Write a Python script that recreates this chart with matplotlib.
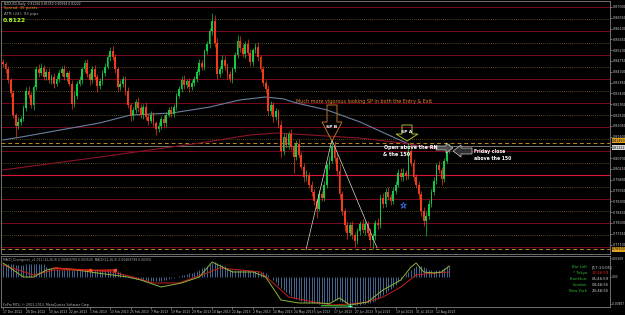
import numpy as np
import pandas as pd
import matplotlib
matplotlib.use('Agg')
import matplotlib.pyplot as plt
from matplotlib.patches import Polygon

W, H = 625, 315  # output size in px

# ---------------- data ----------------

# one daily bar per weekday, 17 Dec 2012 .. 19 Aug 2013
bar_dates = pd.bdate_range('2012-12-17', '2013-08-19')

first_open = 0.8470
closes = [
    0.8462, 0.8440, 0.8395, 0.8340, 0.8250, 0.8205, 0.8222, 0.8235, 0.8280, 0.8350,
    0.8335, 0.8290, 0.8365, 0.8440, 0.8425, 0.8445, 0.8410, 0.8430, 0.8395, 0.8410,
    0.8380, 0.8400, 0.8425, 0.8440, 0.8410, 0.8425, 0.8380, 0.8295, 0.8330, 0.8380,
    0.8395, 0.8440, 0.8465, 0.8420, 0.8395, 0.8440, 0.8410, 0.8370, 0.8390, 0.8425,
    0.8450, 0.8490, 0.8515, 0.8490, 0.8440, 0.8365, 0.8380, 0.8400, 0.8350, 0.8290,
    0.8245, 0.8270, 0.8305, 0.8280, 0.8250, 0.8285, 0.8240, 0.8225, 0.8250, 0.8215,
    0.8190, 0.8205, 0.8235, 0.8215, 0.8250, 0.8270, 0.8255, 0.8285, 0.8330, 0.8360,
    0.8395, 0.8375, 0.8390, 0.8365, 0.8385, 0.8400, 0.8430, 0.8465, 0.8450, 0.8515,
    0.8545, 0.8600, 0.8640, 0.8550, 0.8420, 0.8440, 0.8480, 0.8455, 0.8420, 0.8400,
    0.8440, 0.8500, 0.8560, 0.8530, 0.8505, 0.8545, 0.8510, 0.8470, 0.8520, 0.8535,
    0.8490, 0.8440, 0.8385, 0.8360, 0.8265, 0.8290, 0.8240, 0.8265, 0.8210, 0.8100,
    0.8160, 0.8125, 0.8170, 0.8120, 0.8075, 0.8130, 0.8085, 0.8035, 0.7990, 0.8000,
    0.7960, 0.7930, 0.7890, 0.7860, 0.7920, 0.7905, 0.7960, 0.8040, 0.8060, 0.8120,
    0.8070, 0.8015, 0.7920, 0.7850, 0.7790, 0.7760, 0.7790, 0.7750, 0.7725, 0.7765,
    0.7795, 0.7770, 0.7795, 0.7760, 0.7730, 0.7745, 0.7800, 0.7790, 0.7905, 0.7880,
    0.7930, 0.7910, 0.7890, 0.7935, 0.7960, 0.8010, 0.7990, 0.8010, 0.7995, 0.8100,
    0.8050, 0.7990, 0.7960, 0.7920, 0.7850, 0.7810, 0.7830, 0.7880, 0.7930, 0.7975,
    0.8040, 0.8020, 0.7985, 0.8060, 0.8119, 0.8122,
]
# wick length in pips above / below the candle body
upper_wick = [
    12, 8, 15, 10, 14, 9, 18, 11, 13, 16,
    20, 12, 10, 14, 22, 20, 15, 12, 16, 10,
    14, 18, 11, 13, 20, 9, 12, 15, 18, 10,
    16, 12, 15, 20, 11, 14, 18, 10, 13, 12,
    15, 11, 18, 22, 14, 10, 17, 13, 12, 16,
    10, 14, 12, 18, 15, 11, 20, 13, 16, 12,
    10, 15, 12, 17, 11, 14, 18, 10, 13, 12,
    16, 20, 11, 15, 12, 14, 10, 18, 13, 12,
    15, 11, 35, 28, 20, 16, 18, 14, 12, 15,
    10, 13, 23, 18, 14, 12, 20, 16, 11, 15,
    18, 12, 14, 10, 16, 20, 13, 15, 12, 18,
    14, 16, 12, 20, 10, 15, 18, 12, 14, 20,
    13, 16, 12, 10, 18, 15, 14, 12, 20, 26,
    22, 18, 30, 14, 12, 20, 15, 18, 12, 16,
    14, 20, 12, 15, 18, 13, 12, 20, 16, 22,
    14, 18, 12, 15, 13, 16, 20, 18, 12, 35,
    25, 18, 14, 16, 12, 15, 20, 14, 12, 15,
    12, 18, 14, 10, 11, 13,
]
lower_wick = [
    10, 14, 12, 16, 11, 45, 12, 15, 10, 13,
    14, 11, 18, 12, 15, 10, 13, 16, 12, 15,
    17, 11, 14, 12, 13, 18, 10, 20, 12, 14,
    11, 15, 12, 13, 18, 10, 14, 25, 12, 15,
    13, 10, 14, 12, 16, 18, 12, 14, 15, 12,
    20, 14, 11, 16, 13, 15, 12, 18, 10, 14,
    23, 12, 15, 13, 16, 10, 14, 12, 15, 11,
    13, 16, 12, 18, 11, 14, 12, 15, 13, 11,
    12, 14, 16, 15, 20, 12, 14, 16, 18, 13,
    15, 12, 14, 16, 13, 18, 12, 15, 14, 11,
    14, 12, 16, 18, 13, 15, 20, 12, 16, 25,
    15, 12, 18, 14, 65, 13, 16, 12, 18, 15,
    14, 18, 16, 40, 12, 15, 13, 16, 14, 12,
    15, 18, 20, 16, 22, 25, 14, 18, 25, 12,
    15, 13, 18, 16, 30, 40, 14, 16, 12, 18,
    13, 15, 16, 12, 14, 11, 15, 13, 16, 12,
    14, 16, 13, 18, 20, 22, 65, 14, 12, 15,
    13, 12, 26, 14, 12, 26,
]

# moving averages, sampled at a few bars
ma_fast_idx = [0, 7, 18, 38, 50, 66, 81, 93, 103, 110, 115, 127, 140, 153, 160, 169, 175]
ma_fast_val = [0.8146, 0.8158, 0.8179, 0.8217, 0.8250, 0.8258, 0.8283, 0.8313, 0.8325,
               0.8317, 0.8300, 0.8271, 0.8221, 0.8158, 0.8125, 0.8113, 0.8108]
ma150_idx = [0, 38, 77, 97, 108, 120, 140, 157, 168, 175]
ma150_val = [0.8021, 0.8075, 0.8133, 0.8167, 0.8175, 0.8167, 0.8154, 0.8133, 0.8113, 0.8104]

round_levels = [0.77, 0.78, 0.79, 0.80, 0.81, 0.82, 0.83, 0.84, 0.85, 0.86, 0.87]
half_levels = [0.775, 0.785, 0.795, 0.805, 0.815, 0.825, 0.835, 0.845, 0.855, 0.865]
dashed_levels = [0.8135, 0.7690]
last_price = 0.81222

price_ticks = [0.87000, 0.86550, 0.86100, 0.85650, 0.85200, 0.84750, 0.84300, 0.83850,
               0.83400, 0.82950, 0.82500, 0.82050, 0.81600, 0.81150, 0.80700, 0.80250,
               0.79800, 0.79350, 0.78900, 0.78450, 0.78000, 0.77550, 0.77100]

date_labels = ['17 Dec 2012', '28 Dec 2012', '10 Jan 2013', '22 Jan 2013', '1 Feb 2013',
               '13 Feb 2013', '25 Feb 2013', '7 Mar 2013', '19 Mar 2013', '29 Mar 2013',
               '10 Apr 2013', '22 Apr 2013', '2 May 2013', '14 May 2013', '24 May 2013',
               '5 Jun 2013', '17 Jun 2013', '27 Jun 2013', '9 Jul 2013', '19 Jul 2013',
               '31 Jul 2013', '12 Aug 2013']

# MACD pane, in units of 1e-4
macd_hist = [
    39, 40, 40, 39, 38, 37, 36, 36, 37, 38,
    38, 39, 39, 40, 40, 39, 38, 30, 28, 26,
    24, 23, 22, 22, 21, 21, 22, 22, 21, 21,
    22, 23, 23, 24, 24, 23, 22, 22, 21, 21,
    22, 23, 24, 23, 21, 18, 14, 10, 6, 2,
    -2, -4, -6, -7, -8, -9, -10, -11, -12, -12,
    -13, -12, -11, -10, -8, -6, -4, -2, 0, 3,
    5, 7, 9, 11, 13, 15, 18, 22, 26, 30,
    34, 38, 42, 44, 43, 40, 36, 32, 28, 24,
    22, 21, 21, 22, 22, 21, 20, 19, 18, 18,
    17, 16, 15, 12, 6, 0, -8, -16, -24, -32,
    -40, -46, -52, -58, -62, -66, -70, -72, -74, -76,
    -77, -78, -78, -79, -80, -80, -79, -77, -75, -72,
    -70, -70, -72, -75, -78, -80, -82, -83, -84, -84,
    -83, -82, -80, -79, -78, -76, -72, -66, -60, -54,
    -48, -42, -36, -30, -24, -16, -8, 0, 8, 15,
    22, 28, 32, 34, 33, 30, 26, 22, 20, 19,
    20, 22, 24, 27, 30, 33,
]
macd_idx = [0, 8, 12, 17, 21, 29, 37, 43, 49, 54, 62, 70, 77, 82, 90, 98, 103, 109, 116, 124,
            128, 132, 136, 143, 149, 156, 160, 162, 165, 169, 172, 175]
macd_val = [42, 0, 0, 21, 27, 21, 12, 6, 0, -9, -30, -18, 0, 45, 15, 15, 0, -69, -78, -78,
            -80, -63, -84, -75, -39, -9, 30, 42, 15, 12, 15, 33]
sig_idx = [0, 12, 20, 33, 43, 51, 59, 69, 80, 85, 93, 101, 106, 112, 124, 129, 136, 143,
           149, 156, 162, 169, 175]
sig_val = [36, 6, 21, 21, 15, 0, -18, -18, 12, 27, 21, 15, -18, -60, -78, -84, -81, -75,
           -60, -30, 6, 12, 15]
bear_div_idx = [20, 34, 44]
bear_div_val = [27, 20, 21]
bull_div_idx = [125, 136]
bull_div_val = [-86, -87]

# ---------------- figure ----------------

BG = 'black'
GREEN = '#14c846'
RED = '#f03c1c'
TXT = '#c8c8c8'
FRAME = '#808080'


def px_rect(x0, y0, x1, y1):
    return [x0 / W, 1 - y1 / H, (x1 - x0) / W, (y1 - y0) / H]


fig = plt.figure(figsize=(W / 100, H / 100), dpi=100, facecolor=BG)

x_px0, dx = 3.0, 2.55  # bar 0 position and bar spacing in px


def idx_lim(x0, x1):
    return ((x0 - x_px0) / dx, (x1 - x_px0) / dx)


ax = fig.add_axes(px_rect(1, 1, 610, 254), facecolor=BG)
ax.set_xlim(*idx_lim(1, 610))
ax.set_ylim(0.87 - 247 / 2400, 0.87 + 6 / 2400)

for lv in round_levels:
    ax.axhline(lv, color='#dc143c' if lv == 0.80 else '#7a0a1e',
               lw=0.8 if lv == 0.80 else 0.7, zorder=1)
for lv in half_levels:
    ax.axhline(lv, color='#7a6020', lw=0.6, ls=(0, (1, 1.5)), zorder=1)
for lv in dashed_levels:
    ax.axhline(lv, color='#c08a14', lw=0.7, ls=(0, (4, 3)), zorder=1)
ax.axhline(last_price, color='#8a8a8a', lw=0.6, zorder=1)

ax.plot(ma_fast_idx, ma_fast_val, color='#6a7f9e', lw=0.8, zorder=2)
ax.plot(ma150_idx, ma150_val, color='#8c1428', lw=0.8, zorder=2)

c = np.array(closes)
o = np.array([first_open] + closes[:-1])
hi = np.maximum(o, c) + np.array(upper_wick) * 1e-4
lo = np.minimum(o, c) - np.array(lower_wick) * 1e-4
xi = np.arange(len(c))
cols = np.where(c >= o, GREEN, RED)
ax.vlines(xi, lo, hi, colors=cols, lw=0.5, zorder=3)
ax.bar(xi, np.maximum(np.abs(c - o), 0.0003), bottom=np.minimum(o, c),
       width=0.7, color=cols, lw=0, zorder=4)

# trend lines drawn on the chart
ax.plot([118.8, 129, 146.7], [0.7688, 0.8146, 0.7696], color='#d8d8d8', lw=0.5, zorder=5)
ax.plot([157], [0.7875], marker='*', ms=4.5, mfc='none', mec='#3d6fe0', mew=0.6, zorder=5)

ax.yaxis.tick_right()
ax.set_yticks(price_ticks)
ax.set_yticklabels(['%.5f' % p for p in price_ticks])
ax.tick_params(axis='y', labelsize=2.4, colors=TXT, length=1.2, width=0.4, pad=0.6)
ax.set_xticks([])
for s in ax.spines.values():
    s.set_color(FRAME)
    s.set_linewidth(0.6)

ytr = ax.get_yaxis_transform()
for lv, fc, va in [(dashed_levels[0], '#e0a020', 'bottom'), (last_price, '#d8d8d8', 'top'),
                   (dashed_levels[1], '#e0a020', 'center')]:
    ax.text(1.003, lv, '%.5f' % lv, transform=ytr, fontsize=2.3, color='black',
            va=va, ha='left', clip_on=False,
            bbox=dict(boxstyle='square,pad=0.08', fc=fc, ec='none'))

# MACD pane
ax2 = fig.add_axes(px_rect(1, 256, 610, 307), facecolor=BG)
ax2.set_xlim(*idx_lim(1, 610))
ax2.set_ylim(-0.0090, 0.0063)
ax2.vlines(xi, 0, np.array(macd_hist) * 1e-4, color='#4f78a8', lw=0.6)
ax2.plot(sig_idx, np.array(sig_val) * 1e-4, color='#c81e1e', lw=0.7)
ax2.plot(macd_idx, np.array(macd_val) * 1e-4, color='#8fb43c', lw=0.7)
ax2.plot(bear_div_idx, np.array(bear_div_val) * 1e-4, color='#e02010', lw=1.0)
ax2.plot(bear_div_idx[1:], np.array(bear_div_val[1:]) * 1e-4, 'o', ms=1.5, color='#ff5020')
ax2.plot(bull_div_idx, np.array(bull_div_val) * 1e-4, color='#30c030', lw=0.9)
ax2.plot(bull_div_idx[-1:], np.array(bull_div_val[-1:]) * 1e-4, '+', ms=3, mew=0.7, color='#40ffd0')

pos = [bar_dates.get_loc(pd.Timestamp(d)) for d in date_labels]
ax2.set_xticks(pos)
ax2.set_xticklabels(date_labels, ha='left')
ax2.tick_params(axis='x', labelsize=2.2, colors=TXT, length=1.5, width=0.4, pad=0.8)
ax2.yaxis.tick_right()
ax2.set_yticks([0.00560, 0.0, -0.00800])
ax2.set_yticklabels(['0.00609', '0.00', '-0.00887'])
ax2.tick_params(axis='y', labelsize=2.1, colors=TXT, length=1.0, width=0.4, pad=0.4)
for s in ax2.spines.values():
    s.set_color(FRAME)
    s.set_linewidth(0.6)

# text overlay in pixel coordinates
ov = fig.add_axes([0, 0, 1, 1])
ov.set_xlim(0, W)
ov.set_ylim(H, 0)
ov.axis('off')
ov.patch.set_alpha(0)

ov.text(4, 3.5, 'NZDUSD,Daily  0.81194 0.81350 0.80934 0.81222', color='#d0d0d0',
        fontsize=2.2, va='center')
ov.text(4, 8, 'Spread: 35 points', color='#d4a017', fontsize=2.7, va='center')
ov.text(4, 14, 'ATR (24): 93 pips', color='#a8a8a8', fontsize=2.9, va='center')
ov.text(3, 20, '0.8122', color='#adff2f', fontsize=4.3, fontweight='bold', va='center')

ov.text(296, 102, 'Much more vigorous looking SP in both the Entry & Exit',
        color='#e8862a', fontsize=3.5, va='center')

spb = [(327, 105), (337, 105), (337, 122), (342, 122), (332, 141), (322, 122), (327, 122)]
ov.add_patch(Polygon(spb, closed=True, fill=False, ec='#b8722a', lw=0.7))
ov.text(332, 127, 'SP B', color='white', fontsize=3.2, fontweight='bold', ha='center', va='center')

spa = [(402, 125), (412, 125), (412, 134), (418, 134), (407, 141), (396, 134), (402, 134)]
ov.add_patch(Polygon(spa, closed=True, fill=False, ec='#a8b832', lw=0.7))
ov.text(407, 132, 'SP A', color='white', fontsize=3.2, fontweight='bold', ha='center', va='center')

ov.text(384, 147.5, 'Open above the RN', color='white', fontsize=3.5, fontweight='bold', va='center')
ov.text(383, 154.5, '& the 150', color='white', fontsize=3.5, fontweight='bold', va='center')
right_arrow = [(436, 146), (446, 146), (446, 143), (453, 148), (446, 153), (446, 150), (436, 150)]
ov.add_patch(Polygon(right_arrow, closed=True, fc='#505050', ec='#d0d0d0', lw=0.5))

left_arrow = [(453, 151), (461, 145), (461, 148), (472, 148), (472, 154), (461, 154), (461, 157)]
ov.add_patch(Polygon(left_arrow, closed=True, fc='#303030', ec='#d0d0d0', lw=0.5))
ov.text(474, 151.5, 'Friday close', color='white', fontsize=3.3, fontweight='bold', va='center')
ov.text(474, 159, 'above the 150', color='white', fontsize=3.3, fontweight='bold', va='center')

ov.text(3, 260, 'MACD_Divergence_v1.011 (12,26,9) 0.00469799 0.003500  MACD(12,26,9) 0.00469799 0.00350',
        color='#b0b0b0', fontsize=2.2, va='center')
ov.text(3, 305, 'FxPro MT4, \u00a9 2001-2013, MetaQuotes Software Corp.', color='#b0b0b0',
        fontsize=2.3, va='center')

sessions = [('Bar Left', '[17:13:05]', '#d0d0d0'), ('* Tokyo', '12:46:59', '#e02020'),
            ('Frankfurt', '05:46:59', '#d0d0d0'), ('London', '04:46:55', '#d0d0d0'),
            ('New York', '23:46:55', '#d0d0d0')]
for k, (name, t, tc) in enumerate(sessions):
    yy = 267 + 6 * k
    ov.text(587, yy, name, color='#2db82d', fontsize=2.8, ha='right', va='center')
    ov.text(592, yy, t, color=tc, fontsize=2.8, ha='left', va='center')

fig.savefig('out.png', dpi=100, facecolor=BG)
